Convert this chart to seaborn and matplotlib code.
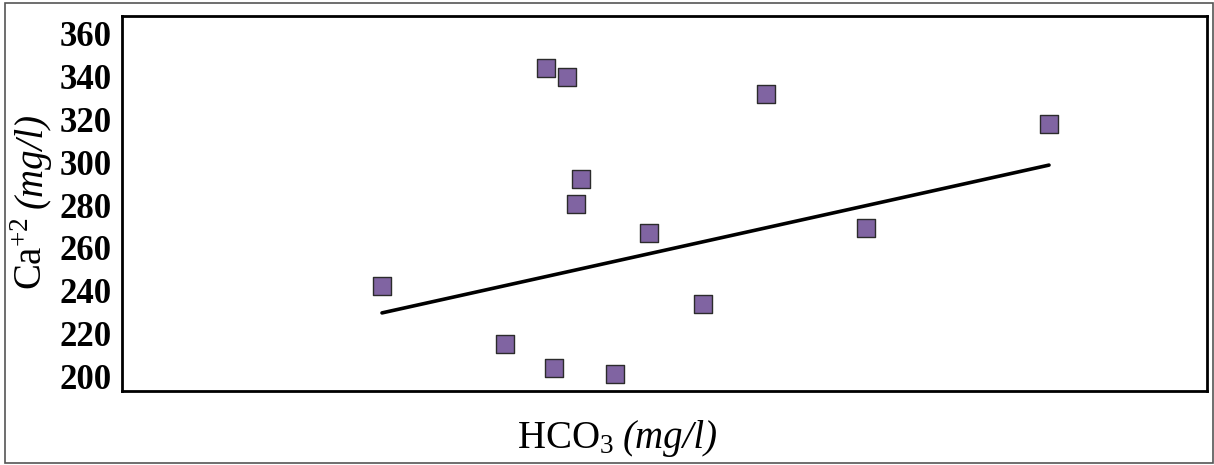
import numpy as np
import pandas as pd
import matplotlib
matplotlib.use('Agg')
import matplotlib.pyplot as plt
import seaborn as sns
from matplotlib.patches import Rectangle

# HCO3 (no ticks shown on the original, arbitrary units) vs Ca+2 (mg/l)
hco3 = [260, 383, 424, 432, 445, 454, 459, 493, 527, 581, 644, 744, 927]
ca = [242.3, 215.2, 343.8, 204.0, 339.6, 280.4, 292.1, 201.3, 267.0, 233.9, 331.8, 269.3, 317.8]

# trend line end points as drawn in the figure
trend_x = [260, 927]
trend_y = [229.7, 298.6]

yticks = [200, 220, 240, 260, 280, 300, 320, 340, 360]

df = pd.DataFrame({'HCO3': hco3, 'Ca': ca})
trend = pd.DataFrame({'HCO3': trend_x, 'Ca': trend_y})

sns.set_style('white')
plt.rcParams['font.family'] = ['Liberation Serif', 'DejaVu Serif']
plt.rcParams['mathtext.fontset'] = 'custom'
plt.rcParams['mathtext.rm'] = 'Liberation Serif'
plt.rcParams['mathtext.it'] = 'Liberation Serif:italic'
plt.rcParams['text.color'] = 'black'
plt.rcParams['ytick.color'] = 'black'

W, H = 1214, 465
fig = plt.figure(figsize=(W / 100, H / 100), dpi=100)
ax = fig.add_axes([122 / W, 1 - 391 / H, (1207 - 122) / W, (391 - 16) / H])

sns.lineplot(data=trend, x='HCO3', y='Ca', color='black', lw=2.6, ax=ax)
sns.scatterplot(data=df, x='HCO3', y='Ca', marker='s', s=150,
                color='#8064a2', edgecolor='#2b2b2b', linewidth=1, ax=ax, zorder=3)

ax.set_xlim(0, 1085)
ax.set_ylim(193.3, 368.1)
ax.set_xticks([])
ax.set_yticks(yticks)
ax.set_yticklabels([str(t) for t in yticks], fontsize=25, fontweight='bold', color='black')
ax.tick_params(axis='y', left=False, pad=4)
ax.set_xlabel('')
ax.set_ylabel('')

for sp in ax.spines.values():
    sp.set_color('black')
    sp.set_linewidth(2)

# axis titles: upright part + italic unit
fig.text(614 / W, 1 - 448 / H, 'HCO$_3$', fontsize=28, ha='right', va='baseline')
fig.text(623 / W, 1 - 448 / H, '(mg/l)', fontsize=28, style='italic', ha='left', va='baseline')
fig.text(42 / W, 1 - 217 / H, 'Ca$^{+2}$', fontsize=28, rotation=90, rotation_mode='anchor',
         ha='right', va='baseline')
fig.text(42 / W, 1 - 208 / H, '(mg/l)', fontsize=28, style='italic', rotation=90,
         rotation_mode='anchor', ha='left', va='baseline')

fig.patches.append(Rectangle((0.004, 0.004), 0.995, 0.99, transform=fig.transFigure,
                             fill=False, edgecolor='#555555', lw=1.2))

fig.savefig('out.png', dpi=100)
